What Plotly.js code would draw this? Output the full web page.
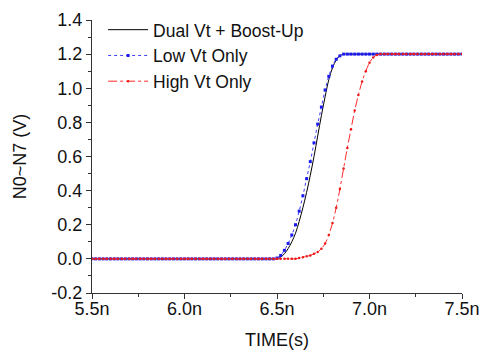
<!DOCTYPE html>
<html>
<head>
<meta charset="utf-8">
<script src="https://cdn.plot.ly/plotly-3.0.1.min.js"></script>
<style>html,body{margin:0;padding:0;background:#fff;}#chart{width:486px;height:353px;}</style>
</head>
<body>
<div id="chart"></div>
<script>
// time in ns
const timeNs = [
5.50,5.52,5.54,5.56,5.58,5.60,5.62,5.64,5.66,5.68,
5.70,5.72,5.74,5.76,5.78,5.80,5.82,5.84,5.86,5.88,
5.90,5.92,5.94,5.96,5.98,6.00,6.02,6.04,6.06,6.08,
6.10,6.12,6.14,6.16,6.18,6.20,6.22,6.24,6.26,6.28,
6.30,6.32,6.34,6.36,6.38,6.40,6.42,6.44,6.46,6.48,
6.50,6.52,6.54,6.56,6.58,6.60,6.62,6.64,6.66,6.68,
6.70,6.72,6.74,6.76,6.78,6.80,6.82,6.84,6.86,6.88,
6.90,6.92,6.94,6.96,6.98,7.00,7.02,7.04,7.06,7.08,
7.10,7.12,7.14,7.16,7.18,7.20,7.22,7.24,7.26,7.28,
7.30,7.32,7.34,7.36,7.38,7.40,7.42,7.44,7.46,7.48,
7.50];

const dualVtBoost = [
0,0,0,0,0,0,0,0,0,0,
0,0,0,0,0,0,0,0,0,0,
0,0,0,0,0,0,0,0,0,0,
0,0,0,0,0,0,0,0,0,0,
0,0,0,0,0,0,0,0,0,0,
0,0.01,0.03,0.06,0.10,0.15,0.22,0.30,0.39,0.49,
0.60,0.72,0.84,0.95,1.05,1.12,1.165,1.19,1.2,1.2,
1.2,1.2,1.2,1.2,1.2,1.2,1.2,1.2,1.2,1.2,
1.2,1.2,1.2,1.2,1.2,1.2,1.2,1.2,1.2,1.2,
1.2,1.2,1.2,1.2,1.2,1.2,1.2,1.2,1.2,1.2,
1.2];

const lowVtOnly = [
0,0,0,0,0,0,0,0,0,0,
0,0,0,0,0,0,0,0,0,0,
0,0,0,0,0,0,0,0,0,0,
0,0,0,0,0,0,0,0,0,0,
0,0,0,0,0,0,0,0,0,0,
0.005,0.02,0.05,0.09,0.14,0.20,0.28,0.37,0.47,0.57,
0.68,0.79,0.89,0.99,1.07,1.13,1.17,1.19,1.2,1.2,
1.2,1.2,1.2,1.2,1.2,1.2,1.2,1.2,1.2,1.2,
1.2,1.2,1.2,1.2,1.2,1.2,1.2,1.2,1.2,1.2,
1.2,1.2,1.2,1.2,1.2,1.2,1.2,1.2,1.2,1.2,
1.2];

const highVtOnly = [
0,0,0,0,0,0,0,0,0,0,
0,0,0,0,0,0,0,0,0,0,
0,0,0,0,0,0,0,0,0,0,
0,0,0,0,0,0,0,0,0,0,
0,0,0,0,0,0,0,0,0,0,
0,0,0,0,0,0,0.005,0.01,0.015,0.02,
0.03,0.04,0.06,0.09,0.14,0.21,0.30,0.41,0.53,0.65,
0.76,0.87,0.96,1.04,1.10,1.15,1.18,1.195,1.2,1.2,
1.2,1.2,1.2,1.2,1.2,1.2,1.2,1.2,1.2,1.2,
1.2,1.2,1.2,1.2,1.2,1.2,1.2,1.2,1.2,1.2,
1.2];

const seriesNames = ["Dual Vt + Boost-Up","Low Vt Only","High Vt Only"];
const xTickVals = [5.5,6.0,6.5,7.0,7.5];
const xTickText = ["5.5n","6.0n","6.5n","7.0n","7.5n"];
const yTickVals = [-0.2,0.0,0.2,0.4,0.6,0.8,1.0,1.2,1.4];
const yTickText = ["-0.2","0.0","0.2","0.4","0.6","0.8","1.0","1.2","1.4"];

const FONT = "Arial, 'Liberation Sans', sans-serif";

const traces = [
  {x: timeNs, y: dualVtBoost, name: seriesNames[0], mode: "lines",
   line: {color: "#000000", width: 1, shape: "spline"}},
  {x: timeNs, y: lowVtOnly, name: seriesNames[1], mode: "lines+markers",
   line: {color: "#3a3aff", width: 1, dash: "dot", shape: "spline"},
   marker: {color: "#1a1aee", size: 3, symbol: "square"}},
  {x: timeNs, y: highVtOnly, name: seriesNames[2], mode: "lines+markers",
   line: {color: "#ff2a2a", width: 1, dash: "dashdot", shape: "spline"},
   marker: {color: "#ee1a1a", size: 2.5, symbol: "circle"}}
];

const axisCommon = {
  showgrid: false, zeroline: false, showline: true, linecolor: "#333", linewidth: 1,
  ticks: "outside", ticklen: 5, tickwidth: 1, tickcolor: "#333",
  tickfont: {family: FONT, size: 18, color: "#111"},
  mirror: false
};

const layout = {
  width: 486, height: 353,
  margin: {l: 92, r: 24, t: 18, b: 60},
  paper_bgcolor: "#fff", plot_bgcolor: "#fff",
  showlegend: true,
  legend: {x: 0.03, y: 1.03, xanchor: "left", yanchor: "top", itemwidth: 40,
    bgcolor: "rgba(0,0,0,0)", font: {family: FONT, size: 17.5, color: "#111"},
    tracegroupgap: 0},
  xaxis: Object.assign({}, axisCommon, {
    range: [5.5, 7.5], tickmode: "array", tickvals: xTickVals, ticktext: xTickText,
    ticklabelstandoff: -6,
    minor: {dtick: 0.25, tick0: 5.5, ticks: "outside", ticklen: 3, tickcolor: "#333"},
    title: {text: "TIME(s)", font: {family: FONT, size: 18, color: "#111"}, standoff: 15}
  }),
  yaxis: Object.assign({}, axisCommon, {
    range: [-0.2, 1.4], tickmode: "array", tickvals: yTickVals, ticktext: yTickText,
    minor: {dtick: 0.1, tick0: 0, ticks: "outside", ticklen: 3, tickcolor: "#333"},
    title: {text: "N0~N7 (V)", font: {family: FONT, size: 18, color: "#111"}, standoff: 20}
  })
};

Plotly.newPlot("chart", traces, layout, {displayModeBar: false, staticPlot: true});
</script>
</body>
</html>
